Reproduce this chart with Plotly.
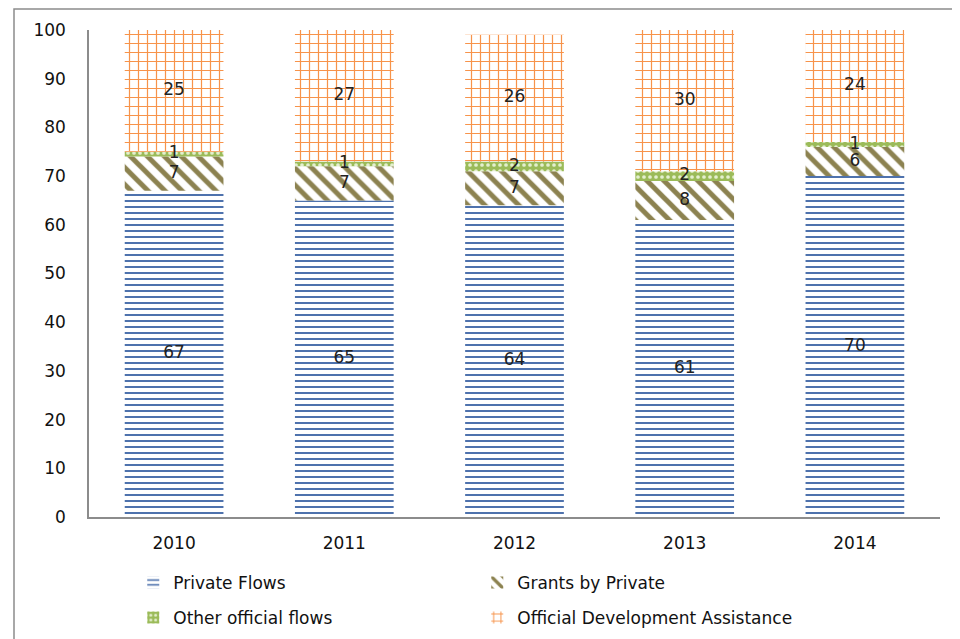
import plotly.graph_objects as go

years = ["2010", "2011", "2012", "2013", "2014"]
private_flows = [67, 65, 64, 61, 70]
grants_private = [7, 7, 7, 8, 6]
other_official = [1, 1, 2, 2, 1]
oda = [25, 27, 26, 29, 23]

label_pf = ["67", "65", "64", "61", "70"]
label_gr = ["7", "7", "7", "8", "6"]
label_oof = ["1", "1", "2", "2", "1"]
label_oda = ["25", "27", "26", "30", "24"]

FONT = "DejaVu Sans"
FS = 17

series = [
    ("Private Flows", private_flows, label_pf,
     dict(shape="-", fgcolor="#3a62a4", bgcolor="white", size=6, solidity=0.3, fgopacity=1), "legend"),
    ("Grants by Private", grants_private, label_gr,
     dict(shape="\\", fgcolor="#8c8250", bgcolor="white", size=12, solidity=0.42, fgopacity=1), "legend"),
    ("Other official flows", other_official, label_oof,
     dict(shape=".", fgcolor="#e4efcf", bgcolor="#9bbb59", size=6, solidity=0.3, fgopacity=1), "legend2"),
    ("Official Development Assistance", oda, label_oda,
     dict(shape="+", fgcolor="#f7934a", bgcolor="white", size=9, solidity=0.25, fgopacity=1), "legend2"),
]

fig = go.Figure()
base = [0] * len(years)
label_x, label_y, label_t = [], [], []
for name, vals, labs, pat, lg in series:
    fig.add_trace(go.Bar(
        x=years, y=vals, name=name, base=base,
        marker=dict(color=pat["bgcolor"], pattern=pat, line=dict(width=0)),
        legend=lg, hoverinfo="skip",
    ))
    for i, v in enumerate(vals):
        label_x.append(years[i])
        label_y.append(base[i] + v / 2)
        label_t.append(labs[i])
    base = [b + v for b, v in zip(base, vals)]

fig.add_trace(go.Scatter(
    x=label_x, y=label_y, text=label_t, mode="text",
    textfont=dict(family=FONT, size=FS, color="#222222"),
    showlegend=False, hoverinfo="skip",
))

fig.update_layout(
    width=960, height=639,
    margin=dict(l=81, r=28, t=22, b=129),
    barmode="overlay", bargap=0.42,
    plot_bgcolor="white", paper_bgcolor="white",
    font=dict(family=FONT, size=FS, color="#111111"),
    xaxis=dict(showline=True, linecolor="#8c8c8c", linewidth=1.5, ticks="",
               showgrid=False, tickfont=dict(size=FS), ticklabelstandoff=10),
    yaxis=dict(range=[0, 100], dtick=10, showline=True, linecolor="#8c8c8c",
               linewidth=1.5, ticks="", showgrid=False, zeroline=False,
               tickfont=dict(size=FS), ticklabelstandoff=18),
    legend=dict(orientation="h", x=0.052, y=-0.133, xanchor="left", yanchor="middle",
                entrywidth=299, entrywidthmode="pixels", font=dict(size=FS),
                itemwidth=30, bgcolor="rgba(0,0,0,0)"),
    legend2=dict(orientation="h", x=0.052, y=-0.205, xanchor="left", yanchor="middle",
                 entrywidth=299, entrywidthmode="pixels", font=dict(size=FS),
                 itemwidth=30, bgcolor="rgba(0,0,0,0)"),
    shapes=[dict(type="rect", xref="paper", yref="paper",
                 x0=(6 - 81) / 851, x1=1.06, y0=-0.3, y1=(510 - 1) / 488,
                 line=dict(color="#8c8c8c", width=1.5), layer="below")],
)

fig.write_html("out.html")
